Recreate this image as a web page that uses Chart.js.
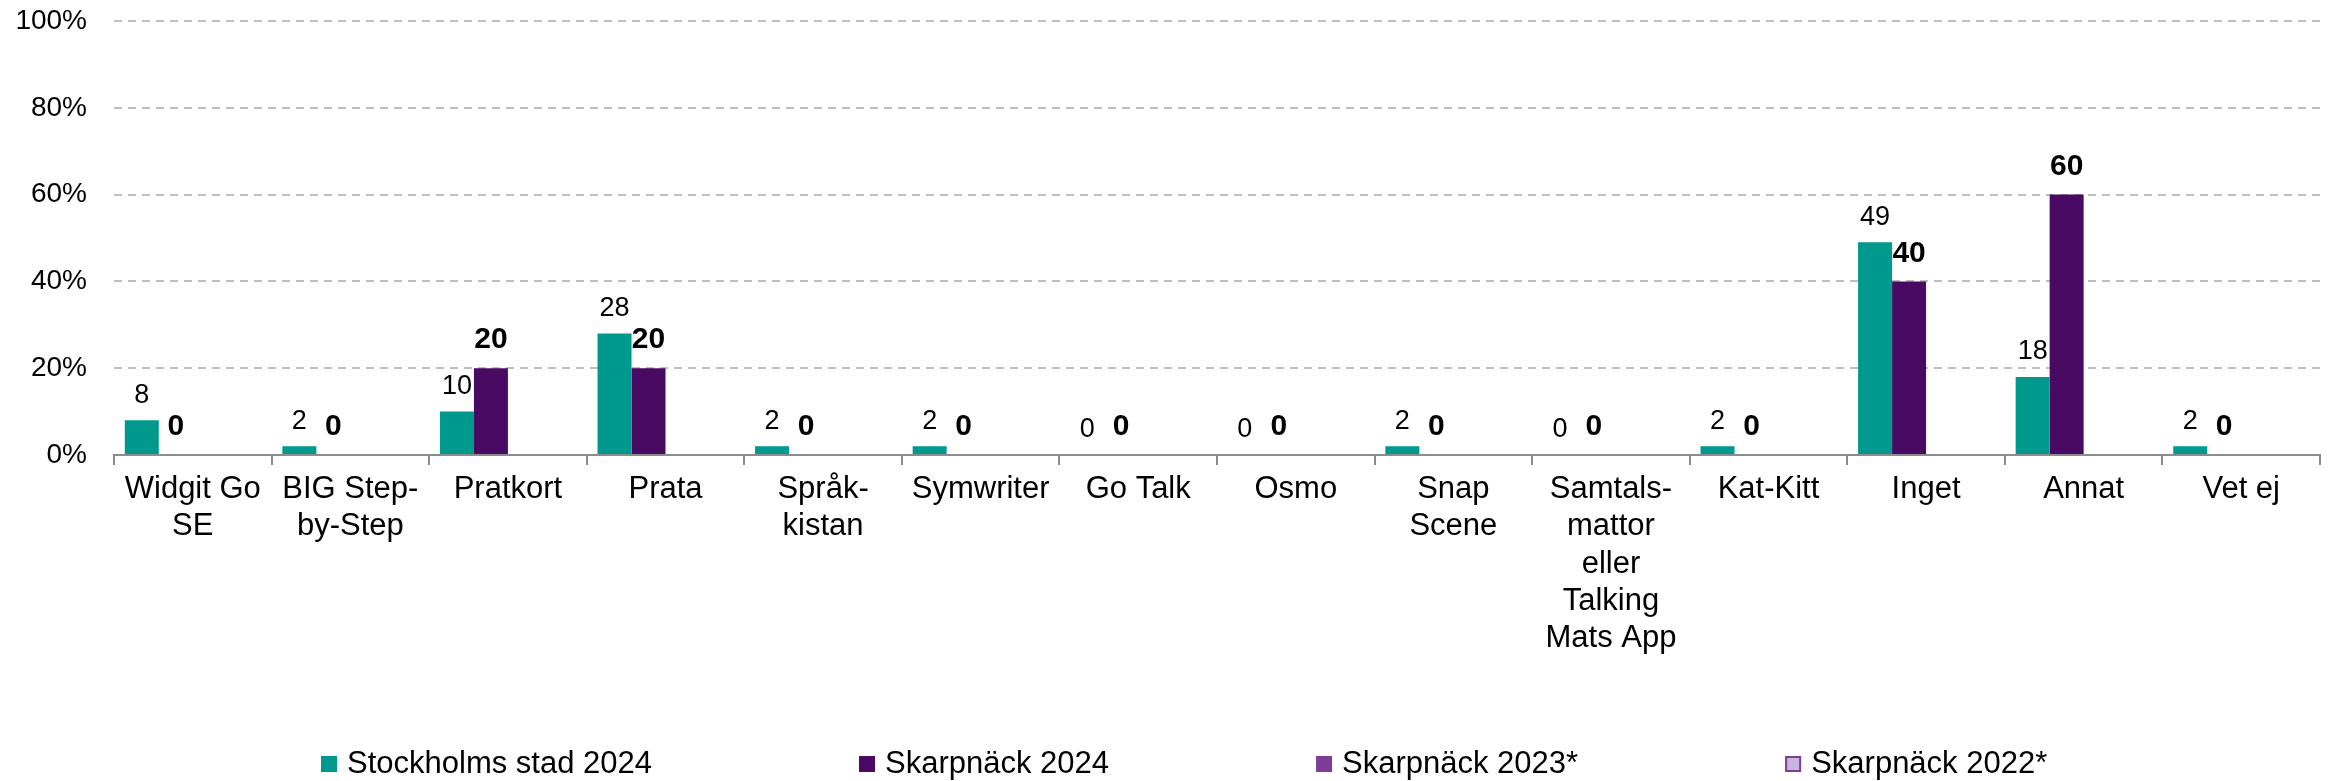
<!DOCTYPE html>
<html><head><meta charset="utf-8">
<script src="https://cdn.jsdelivr.net/npm/chart.js@4.4.1/dist/chart.umd.min.js"></script>
<style>html,body{margin:0;padding:0;background:#fff}canvas{display:block}</style>
</head><body>
<canvas id="c" width="2331" height="781"></canvas>
<script>
const categories = [["Widgit Go","SE"],["BIG Step-","by-Step"],"Pratkort","Prata",["Språk-","kistan"],"Symwriter","Go Talk","Osmo",["Snap","Scene"],["Samtals-","mattor","eller","Talking","Mats App"],"Kat-Kitt","Inget","Annat","Vet ej"];
const seriesNames = ["Stockholms stad 2024","Skarpnäck 2024","Skarpnäck 2023*","Skarpnäck 2022*"];
const stockholm2024 = [8,2,10,28,2,2,0,0,2,0,2,49,18,2];
const skarpnack2024 = [0,0,20,20,0,0,0,0,0,0,0,40,60,0];
const skarpnack2023 = [null,null,null,null,null,null,null,null,null,null,null,null,null,null];
const skarpnack2022 = [null,null,null,null,null,null,null,null,null,null,null,null,null,null];
const yTicks = [0,20,40,60,80,100];

const FONT = "'Liberation Sans', Arial, sans-serif";
const fills = ["#00998E","#480A62","#7D3C98","#C8B4DC"];
const borders = ["#00998E","#480A62","#7D3C98","#7D3C98"];

const labelPlugin = {
  id: 'valueLabels',
  afterDatasetsDraw(chart) {
    const ctx = chart.ctx;
    ctx.save();
    ctx.textAlign = 'center';
    ctx.textBaseline = 'middle';
    ctx.fillStyle = '#000';
    [0,1].forEach(di => {
      const meta = chart.getDatasetMeta(di);
      const data = chart.data.datasets[di].data;
      meta.data.forEach((bar, i) => {
        if (data[i] === null) return;
        if (di === 0) { ctx.font = "27px " + FONT; ctx.fillText(String(data[i]), bar.x, bar.y - 25); }
        else { ctx.font = "bold 30px " + FONT; ctx.fillText(String(data[i]), bar.x, bar.y - 28); }
      });
    });
    ctx.restore();
  }
};

const legendPlugin = {
  id: 'bottomLegend',
  afterDraw(chart) {
    const ctx = chart.ctx;
    ctx.save();
    ctx.font = "31px " + FONT;
    ctx.textBaseline = 'middle';
    ctx.textAlign = 'left';
    let x = 321; const y = 764;
    seriesNames.forEach((name, i) => {
      ctx.fillStyle = fills[i];
      ctx.fillRect(x, y - 8, 16, 16);
      if (i === 3) { ctx.strokeStyle = borders[i]; ctx.lineWidth = 2; ctx.strokeRect(x + 1, y - 7, 14, 14); }
      ctx.fillStyle = '#000';
      ctx.fillText(name, x + 26, y);
      x += 26 + ctx.measureText(name).width + 207;
    });
    ctx.restore();
  }
};

new Chart(document.getElementById('c'), {
  type: 'bar',
  data: {
    labels: categories,
    datasets: [
      { label: seriesNames[0], data: stockholm2024, backgroundColor: fills[0], borderWidth: 0 },
      { label: seriesNames[1], data: skarpnack2024, backgroundColor: fills[1], borderWidth: 0 },
      { label: seriesNames[2], data: skarpnack2023, backgroundColor: fills[2], borderWidth: 0 },
      { label: seriesNames[3], data: skarpnack2022, backgroundColor: fills[3], borderColor: borders[3], borderWidth: 1 }
    ]
  },
  options: {
    responsive: false,
    animation: false,
    devicePixelRatio: 1,
    layout: { padding: { top: 0, right: 11, bottom: 0, left: 0 } },
    datasets: { bar: { categoryPercentage: 0.863, barPercentage: 1.0 } },
    plugins: { legend: { display: false }, tooltip: { enabled: false } },
    scales: {
      x: {
        offset: true,
        grid: { offset: true, drawOnChartArea: false, drawTicks: true, tickLength: 10, color: '#8c8c8c', lineWidth: 2 },
        border: { display: true, color: '#8c8c8c', width: 2 },
        ticks: { color: '#000', font: { family: FONT, size: 31, lineHeight: 1.2 }, maxRotation: 0, autoSkip: false, padding: 6 },
        afterFit(scale) { scale.height = 326; }
      },
      y: {
        min: 0, max: 100,
        afterBuildTicks(scale) { scale.ticks = yTicks.map(v => ({ value: v })); },
        grid: {
          drawTicks: false,
          color: ctx => (ctx.tick && ctx.tick.value === 0) ? 'rgba(0,0,0,0)' : '#BEBEBE',
          lineWidth: 2
        },
        border: { display: false, dash: [8, 6] },
        ticks: { color: '#000', font: { family: FONT, size: 28 }, padding: 27, callback: v => v + '%' },
        afterFit(scale) { scale.width = 114; scale.paddingTop = 21; scale.paddingBottom = 0; }
      }
    }
  },
  plugins: [labelPlugin, legendPlugin]
});
</script>
</body></html>
